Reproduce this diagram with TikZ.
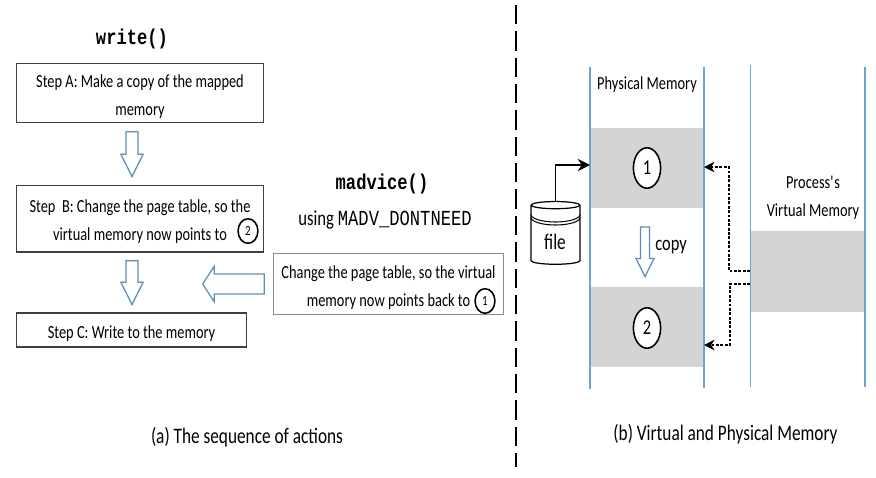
\documentclass[tikz,border=0pt]{standalone}
\usepackage{fontspec}
\setmainfont[FakeStretch=0.78]{Carlito}
\newfontfamily\codefont[FakeStretch=0.8]{Liberation Mono}
\usetikzlibrary{arrows.meta,shapes.geometric,shapes.arrows}
\definecolor{memblue}{HTML}{6FA3D6}
\definecolor{arrowblue}{HTML}{5B8DB8}
\definecolor{memgray}{HTML}{D4D4D4}
\newcommand{\lowline}{\rule{0pt}{11pt}}
\tikzset{
    stepbox/.style={draw=black!75,line width=0.7pt,align=center,font=\fontsize{10.5}{15.9}\selectfont,inner sep=0pt},
    backbox/.style={stepbox,draw=black!45},
    numsmall/.style={draw,ellipse,line width=0.9pt,fill=white,inner sep=0pt,minimum width=11.3pt,minimum height=14pt,font=\fontsize{8}{8}\selectfont},
    numbig/.style={draw,ellipse,line width=0.9pt,fill=white,inner sep=0pt,minimum width=15.5pt,minimum height=23pt,font=\fontsize{12}{12}\selectfont},
    blockarrow/.style={draw=arrowblue,fill=white,line width=0.7pt,single arrow,anchor=tip,text height=0pt,text depth=0pt,text width=0pt,single arrow head indent=0pt},
    memline/.style={draw=memblue,line width=0.9pt},
    memblock/.style={fill=memgray},
    caption/.style={font=\fontsize{12.6}{14}\selectfont},
    memlabel/.style={align=center,font=\fontsize{10.5}{15.8}\selectfont},
    codelabel/.style={font=\codefont\bfseries\fontsize{12.2}{13}\selectfont},
    ptr/.style={-{Stealth[length=6pt,width=6pt]},dash pattern=on 1.6pt off 0.9pt,line width=0.7pt},
}

\begin{document}
\begin{tikzpicture}[x=0.02cm,y=-0.02cm]
        \useasboundingbox(0,0)rectangle(876,477);
        % left side, the actions
        \node[codelabel]at(132,39){write()};
        \node[stepbox,minimum width=140.6pt,minimum height=34pt](stepA)at(140,93){\lowline Step A: Make a copy of the mapped\\memory};
        \node[stepbox,minimum width=140.6pt,minimum height=38pt](stepB)at(140,218.5){\lowline Step~ B: Change the page table, so the\\virtual memory now points to};
        \node[stepbox,minimum width=131pt,minimum height=19.3pt](stepC)at(131.5,330){\lowline Step C: Write to the memory};
        \node[numsmall](twoB)at(248,231){2};

        \node[codelabel]at(382,184){madvice()};
        \node[font=\fontsize{12.2}{13}\selectfont]at(385,220){using {\codefont MADV\_DONTNEED}};
        \node[backbox,minimum width=131pt,minimum height=35pt](back)at(388.5,284){\lowline Change the page table, so the virtual\\memory now points back to};
        \node[numsmall](oneB)at(485,301){1};

        \node[blockarrow,shape border rotate=270,inner sep=3.1pt,minimum height=25.5pt,single arrow head extend=2.9pt,single arrow tip angle=53]at(132,178){};
        \node[blockarrow,shape border rotate=270,inner sep=3.1pt,minimum height=25pt,single arrow head extend=2.9pt,single arrow tip angle=53]at(132,306){};
        \node[blockarrow,shape border rotate=180,inner sep=5.4pt,minimum height=35pt,single arrow head extend=4.25pt,single arrow tip angle=114]at(202,284){};

        \node[caption]at(247,437){(a) The sequence of actions};

        % the dashed separator
        \draw[dash pattern=on 11pt off 4pt,line width=0.8pt](516,5)--(516,467);

        % right side, the memory
        \fill[memblock](591,128)rectangle(704,208);
        \fill[memblock](591,287)rectangle(704,367);
        \fill[memblock](751,231)rectangle(865,312);
        \draw[memline](590,67)--(590,389);
        \draw[memline](704,67)--(704,388);
        \draw[memline](750.5,65)--(750.5,387);
        \draw[memline](865,67)--(865,387);
        \node[memlabel]at(647,85){Physical Memory};
        \node[memlabel]at(813,198){Process\textquotesingle s\\Virtual Memory};
        \node[numbig](one)at(647,168){1};
        \node[numbig](two)at(647,328){2};
        \coordinate(physone)at(590,165);
        \coordinate(rightone)at(704,167);
        \coordinate(righttwo)at(704,345);
        \coordinate(virtone)at(750,271);
        \coordinate(virttwo)at(750,284);

        \node[draw,line width=0.7pt,fill=white,cylinder,shape border rotate=90,aspect=0.33,minimum height=35.7pt,minimum width=27.8pt,inner sep=0pt,font=\fontsize{12.6}{13}\selectfont](file)at(555.5,235){\phantom{file}};
        \node[font=\fontsize{12.6}{13}\selectfont](filelabel)at(555,242){file};
        \draw[line width=0.6pt](531,214.5)arc(180:0:24.5 and 7.5);
        \draw[line width=0.6pt](531,217.5)arc(180:0:24.5 and 7.5);
        \draw[-{Stealth[length=7pt,width=7pt]},line width=0.8pt](file.top)|-(physone);

        \node[blockarrow,shape border rotate=270,inner sep=2.27pt,minimum height=28.3pt,single arrow head extend=2.55pt,single arrow tip angle=53]at(645,278){};
        \node[font=\fontsize{12}{14}\selectfont]at(671,247){copy};

        \draw[ptr](virtone)-|(729,167)--(rightone);
        \draw[ptr](virttwo)-|(730,345)--(righttwo);

        \node[caption]at(725.5,434){(b) Virtual and Physical Memory};
    \end{tikzpicture}
\end{document}
